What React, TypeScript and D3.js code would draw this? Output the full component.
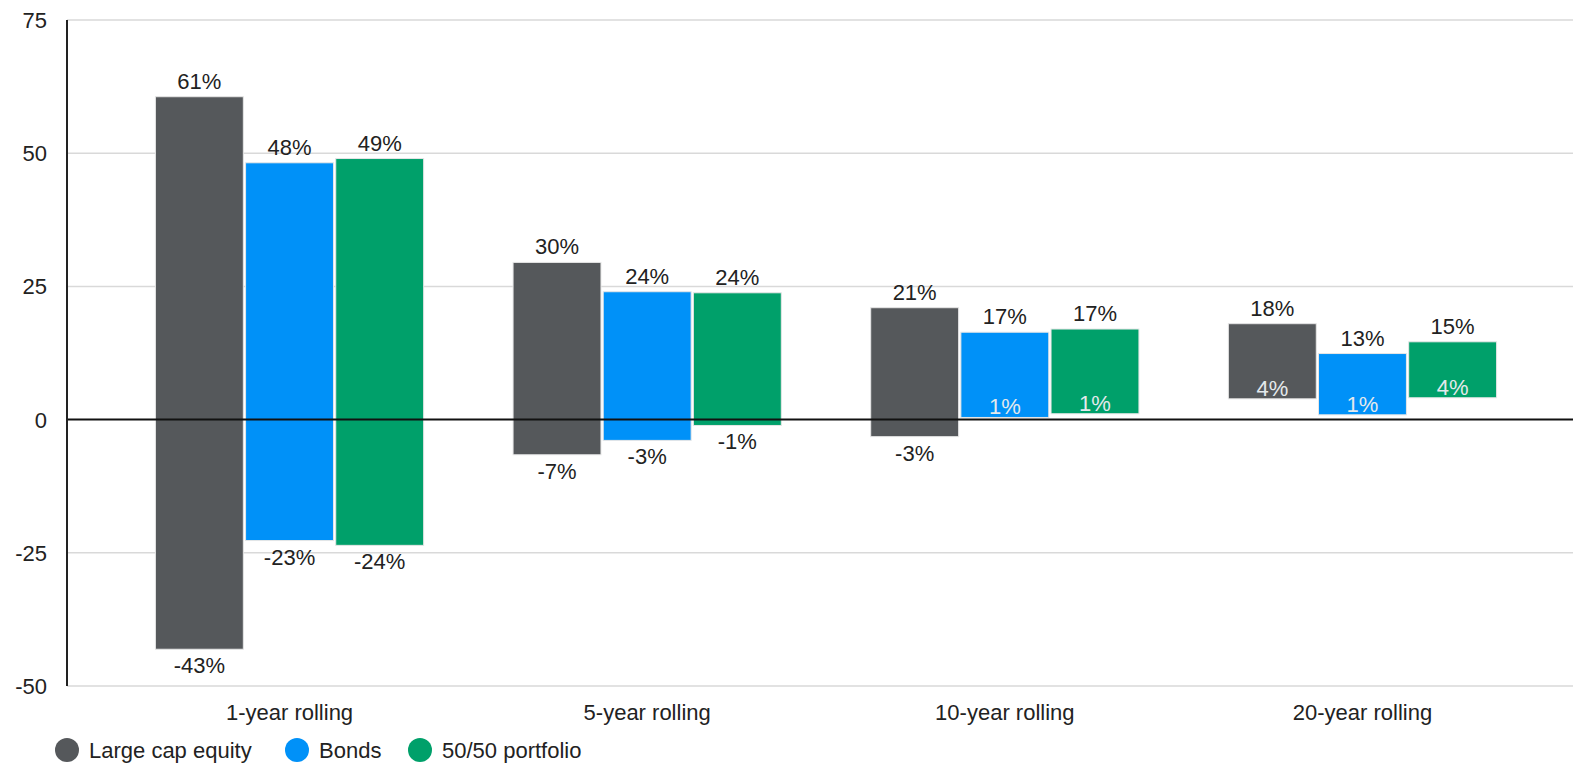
import React from "react";
import * as d3 from "d3";

const categories = ["1-year rolling", "5-year rolling", "10-year rolling", "20-year rolling"];
const seriesNames = ["Large cap equity", "Bonds", "50/50 portfolio"];
const colors = ["#55585b", "#0091f8", "#00a06a"];

// bar extents (max / min) per series per category
const equityMax = [60.6, 29.5, 21, 18];
const equityMin = [-43.1, -6.6, -3.2, 3.9];
const bondsMax = [48.2, 24, 16.4, 12.4];
const bondsMin = [-22.7, -3.9, 0.4, 0.9];
const mixMax = [49, 23.8, 17, 14.6];
const mixMin = [-23.6, -1.1, 1.1, 4.1];

const equityMaxLabels = ["61%", "30%", "21%", "18%"];
const equityMinLabels = ["-43%", "-7%", "-3%", "4%"];
const bondsMaxLabels = ["48%", "24%", "17%", "13%"];
const bondsMinLabels = ["-23%", "-3%", "1%", "1%"];
const mixMaxLabels = ["49%", "24%", "17%", "15%"];
const mixMinLabels = ["-24%", "-1%", "1%", "4%"];

const yTicks = [75, 50, 25, 0, -25, -50];

const W = 1573;
const H = 765;
const FONT = "Liberation Sans, Arial, sans-serif";

export default function App() {
  const y = d3.scaleLinear().domain([-50, 75]).range([686, 20]);
  const x0 = d3.scaleBand<string>().domain(categories).range([66, 1586]).paddingInner(0.25).paddingOuter(0.25);
  const x1 = d3.scaleBand<string>().domain(seriesNames).range([0, x0.bandwidth()]).paddingInner(0.025);

  const maxes = [equityMax, bondsMax, mixMax];
  const mins = [equityMin, bondsMin, mixMin];
  const maxLabels = [equityMaxLabels, bondsMaxLabels, mixMaxLabels];
  const minLabels = [equityMinLabels, bondsMinLabels, mixMinLabels];

  return (
    <svg width={W} height={H} style={{ position: "absolute", left: 0, top: 0, background: "#fff" }} fontFamily={FONT}>
      {/* gridlines */}
      {yTicks.map((t) => (
        <line key={"g" + t} x1={67} x2={W} y1={y(t)} y2={y(t)} stroke={t === 0 ? "none" : "#d9d9d9"} strokeWidth={1.5} />
      ))}
      {/* tick labels */}
      {yTicks.map((t) => (
        <text key={"t" + t} x={47} y={y(t) + 8} textAnchor="end" fontSize={22} fill="#222">
          {t}
        </text>
      ))}
      {/* bars */}
      {categories.map((c, ci) =>
        seriesNames.map((s, si) => {
          const bx = (x0(c) as number) + (x1(s) as number);
          const bw = x1.bandwidth();
          const top = y(maxes[si][ci]);
          const bot = y(mins[si][ci]);
          return (
            <rect key={c + s} x={bx} y={top} width={bw} height={bot - top} fill={colors[si]} stroke="#e6e6e6" strokeWidth={1} />
          );
        })
      )}
      {/* zero line */}
      <line x1={67} x2={W} y1={y(0)} y2={y(0)} stroke="#111" strokeWidth={2} />
      {/* y axis */}
      <line x1={67} x2={67} y1={y(75)} y2={y(-50)} stroke="#222" strokeWidth={2} />
      {/* labels */}
      {categories.map((c, ci) =>
        seriesNames.map((s, si) => {
          const cx = (x0(c) as number) + (x1(s) as number) + x1.bandwidth() / 2;
          const top = y(maxes[si][ci]);
          const bot = y(mins[si][ci]);
          const inside = mins[si][ci] > 0;
          return (
            <g key={"l" + c + s}>
              <text x={cx} y={top - 8} textAnchor="middle" fontSize={22} fill="#222">
                {maxLabels[si][ci]}
              </text>
              <text
                x={cx}
                y={inside ? bot - 3 : bot + 24}
                textAnchor="middle"
                fontSize={22}
                fill={inside ? "#e4e9ec" : "#222"}
              >
                {minLabels[si][ci]}
              </text>
            </g>
          );
        })
      )}
      {/* category labels */}
      {categories.map((c) => (
        <text key={"c" + c} x={(x0(c) as number) + x0.bandwidth() / 2} y={720} textAnchor="middle" fontSize={22} fill="#222">
          {c}
        </text>
      ))}
      {/* legend */}
      {(() => {
        const xs = [67, 297, 420];
        return seriesNames.map((s, i) => (
          <g key={"lg" + s}>
            <circle cx={xs[i]} cy={750} r={12} fill={colors[i]} />
            <text x={xs[i] + 22} y={758} fontSize={22} fill="#222">
              {s}
            </text>
          </g>
        ));
      })()}
    </svg>
  );
}
